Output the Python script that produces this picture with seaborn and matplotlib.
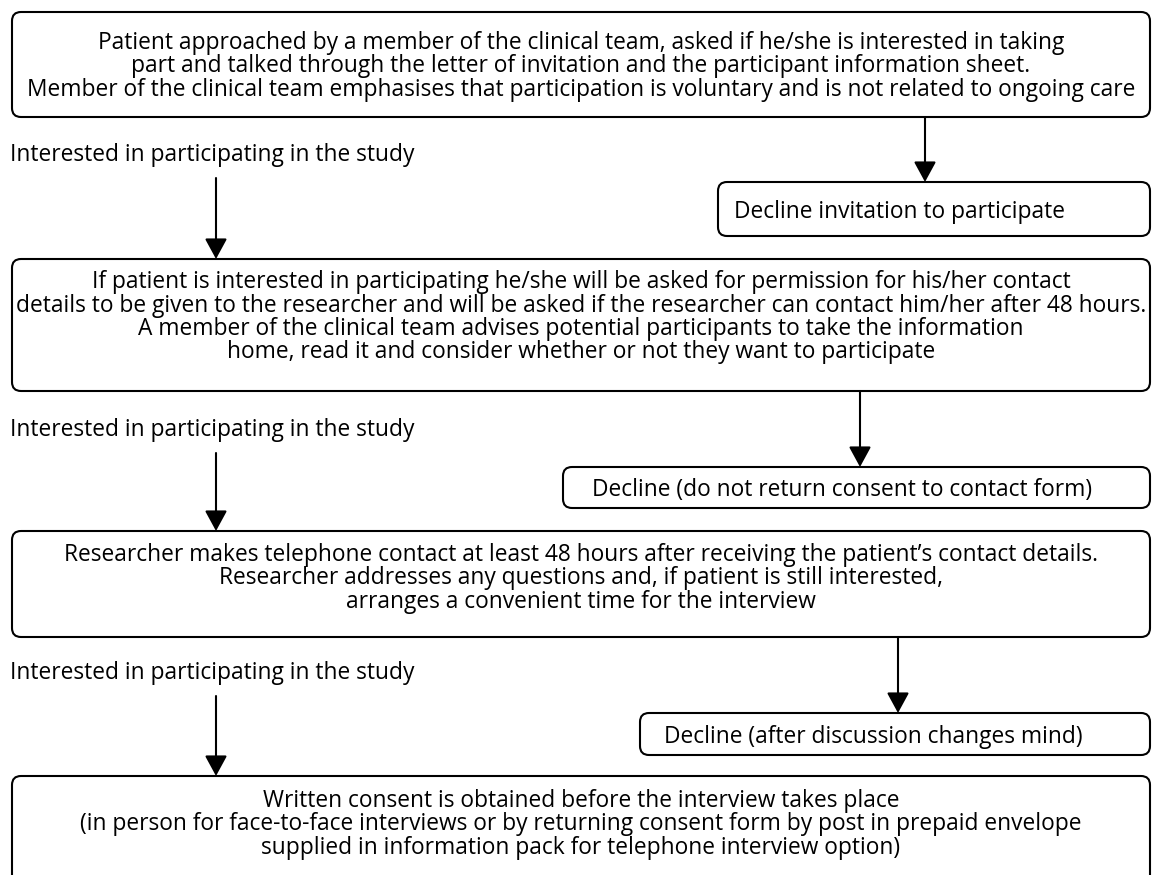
import matplotlib
matplotlib.use("Agg")
import matplotlib.pyplot as plt
from matplotlib.patches import FancyBboxPatch
import seaborn as sns

# flowchart content
main_steps = [
    ["Patient approached by a member of the clinical team, asked if he/she is interested in taking",
     "part and talked through the letter of invitation and the participant information sheet.",
     "Member of the clinical team emphasises that participation is voluntary and is not related to ongoing care"],
    ["If patient is interested in participating he/she will be asked for permission for his/her contact",
     "details to be given to the researcher and will be asked if the researcher can contact him/her after 48 hours.",
     "A member of the clinical team advises potential participants to take the information",
     "home, read it and consider whether or not they want to participate"],
    ["Researcher makes telephone contact at least 48 hours after receiving the patient\u2019s contact details.",
     "Researcher addresses any questions and, if patient is still interested,",
     "arranges a convenient time for the interview"],
    ["Written consent is obtained before the interview takes place",
     "(in person for face-to-face interviews or by returning consent form by post in prepaid envelope",
     "supplied in information pack for telephone interview option)"],
]
decline_steps = [
    "Decline invitation to participate",
    "Decline (do not return consent to contact form)",
    "Decline (after discussion changes mind)",
]
proceed_label = "Interested in participating in the study"

# layout in pixel units (y down)
W, H = 1153, 875
main_boxes = [(12, 12, 117), (12, 259, 391), (12, 531, 637), (12, 776, 900)]  # left, top, bottom
first_line_y = [40, 279, 552, 798]
line_step = 23.5
main_right = 1150
decline_boxes = [(718, 182, 236), (563, 467, 508), (640, 713, 755)]
decline_arrow_x = [925, 860, 898]
decline_text_x = [734, 592, 664]
left_arrow_x = 216
label_y = [155, 430, 673]

sns.set_theme(style="white")
plt.rcParams["font.family"] = ["Open Sans", "DejaVu Sans"]
plt.rcParams["text.color"] = "black"

fig = plt.figure(figsize=(W / 100, H / 100), dpi=100)
ax = fig.add_axes([0, 0, 1, 1])
ax.set_xlim(0, W)
ax.set_ylim(H, 0)
ax.axis("off")

fs = 16.4
lw = 1.5
dy = 3  # visual centring shift for text


def box(x0, y0, x1, y1):
    p = FancyBboxPatch((x0, y0), x1 - x0, y1 - y0,
                       boxstyle="round,pad=0,rounding_size=9",
                       fc="white", ec="black", lw=lw)
    ax.add_patch(p)


def arrow(x, y0, y1):
    ax.annotate("", xy=(x, y1), xytext=(x, y0),
                arrowprops=dict(arrowstyle="-|>,head_length=1.25,head_width=0.68",
                                lw=lw, color="black", shrinkA=0, shrinkB=0,
                                mutation_scale=10))


for (x0, top, bot), y1, lines in zip(main_boxes, first_line_y, main_steps):
    box(x0, top, main_right, bot)
    for k, line in enumerate(lines):
        ax.text((x0 + main_right) / 2, y1 + dy + k * line_step, line,
                ha="center", va="center", fontsize=fs)

for (x0, top, bot), tx, txt in zip(decline_boxes, decline_text_x, decline_steps):
    box(x0, top, main_right, bot)
    ax.text(tx, (top + bot) / 2 + dy, txt, ha="left", va="center", fontsize=fs)

for i in range(3):
    # right branch: from bottom of main box to decline box
    arrow(decline_arrow_x[i], main_boxes[i][2], decline_boxes[i][1])
    # left branch: proceed to next main box
    ax.text(10, label_y[i], proceed_label, ha="left", va="center", fontsize=fs)
    arrow(left_arrow_x, label_y[i] + 23, main_boxes[i + 1][1])

fig.savefig("out.png", dpi=100)
